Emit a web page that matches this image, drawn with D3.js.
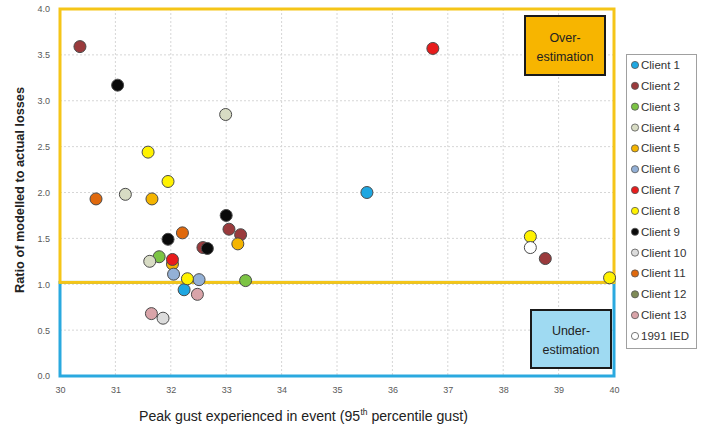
<!DOCTYPE html>
<html><head><meta charset="utf-8">
<script src="https://cdn.jsdelivr.net/npm/d3@7"></script>
<style>body{margin:0;background:#fff}svg{display:block}</style>
</head><body>
<svg id="c" width="707" height="428"></svg>
<script>
const seriesNames = ["Client 1","Client 2","Client 3","Client 4","Client 5","Client 6","Client 7","Client 8","Client 9","Client 10","Client 11","Client 12","Client 13","1991 IED"];
const client1 = [[35.54,2.00],[32.24,0.94]];
const client2 = [[30.36,3.59],[32.58,1.40],[33.05,1.60],[33.26,1.54],[38.76,1.28]];
const client3 = [[31.79,1.30],[33.35,1.04]];
const client4 = [[32.99,2.85],[31.18,1.98],[31.62,1.25]];
const client5 = [[31.66,1.93],[32.03,1.22],[33.21,1.44]];
const client6 = [[32.05,1.11],[32.51,1.05]];
const client7 = [[36.73,3.57],[32.03,1.27]];
const client8 = [[31.59,2.44],[31.95,2.12],[32.30,1.06],[38.49,1.52],[39.92,1.07]];
const client9 = [[31.04,3.17],[31.95,1.49],[33.00,1.75],[32.66,1.39]];
const client10 = [[31.86,0.63]];
const client11 = [[30.65,1.93],[32.21,1.56]];
const client12 = [];
const client13 = [[31.65,0.68],[32.48,0.89]];
const ied1991 = [[38.49,1.40]];
const seriesData = [client1,client2,client3,client4,client5,client6,client7,client8,client9,client10,client11,client12,client13,ied1991];
const seriesColors = ["#1fa7e1","#9a3a3c","#7cc444","#d8dcc4","#f4b400","#93b0d6","#e81c1c","#fff200","#0a0a0a","#dcdcdc","#e0690d","#7e8a56","#d9a4a9","#ffffff"];
const xTicks = [30,31,32,33,34,35,36,37,38,39,40];
const yTicks = [0.0,0.5,1.0,1.5,2.0,2.5,3.0,3.5,4.0];
const threshold = 1.02;

const svg = d3.select("#c");
const x = d3.scaleLinear().domain([30,40]).range([60,614]);
const y = d3.scaleLinear().domain([0,4]).range([376,9]);

// grid
const g = svg.append("g");
g.selectAll(".vg").data(xTicks.slice(1,-1)).join("line")
  .attr("x1",d=>x(d)).attr("x2",d=>x(d)).attr("y1",y(4)).attr("y2",y(0))
  .attr("stroke","#d6d6d6").attr("stroke-width",1).attr("stroke-dasharray","2,2");
g.selectAll(".hg").data(yTicks.filter(d=>d>0&&d<4)).join("line")
  .attr("y1",d=>y(d)).attr("y2",d=>y(d)).attr("x1",x(30)).attr("x2",x(40))
  .attr("stroke","#d6d6d6").attr("stroke-width",1).attr("stroke-dasharray","2,2");

// axes labels
const xAxis = d3.axisBottom(x).tickValues(xTicks).tickFormat(d3.format("d")).tickSize(0).tickPadding(11);
const xa = svg.append("g").attr("transform",`translate(0,${y(0)})`).call(xAxis);
xa.select(".domain").remove();
xa.selectAll("text").attr("font-family","Liberation Sans, Arial, sans-serif").attr("font-size",9).attr("fill","#595959");
const yAxis = d3.axisLeft(y).tickValues(yTicks).tickFormat(d3.format(".1f")).tickSize(0).tickPadding(10);
const ya = svg.append("g").attr("transform",`translate(${x(30)},0)`).call(yAxis);
ya.select(".domain").remove();
ya.selectAll("text").attr("font-family","Liberation Sans, Arial, sans-serif").attr("font-size",9).attr("fill","#595959");

// region rectangles
svg.append("rect").attr("x",x(30)).attr("y",y(threshold)).attr("width",x(40)-x(30)).attr("height",y(0)-y(threshold))
  .attr("fill","none").attr("stroke","#2aa9df").attr("stroke-width",3);
svg.append("rect").attr("x",x(30)).attr("y",y(4)).attr("width",x(40)-x(30)).attr("height",y(threshold)-y(4))
  .attr("fill","none").attr("stroke","#f5c518").attr("stroke-width",3);

// points
seriesData.forEach((arr,i)=>{
  svg.append("g").selectAll("circle").data(arr).join("circle")
    .attr("cx",d=>x(d[0])).attr("cy",d=>y(d[1])).attr("r",6)
    .attr("fill",seriesColors[i]).attr("stroke","#4a4a4a").attr("stroke-width",1);
});

// annotation boxes
function box(x0,y0,w,h,fill,lines){
  svg.append("rect").attr("x",x0).attr("y",y0).attr("width",w).attr("height",h)
    .attr("fill",fill).attr("stroke","#1a1a1a").attr("stroke-width",2);
  const t = svg.append("text").attr("text-anchor","middle").attr("font-family","Liberation Sans Narrow, Liberation Sans, Arial, sans-serif")
    .attr("font-size",12.5).attr("fill","#222");
  lines.forEach((l,k)=>t.append("tspan").attr("x",x0+w/2).attr("y",y0+h/2-4+k*19).text(l));
}
box(525,16,80,59,"#f7b500",["Over-","estimation"]);
box(531,310,80,58,"#9fdaf2",["Under-","estimation"]);

// legend
const lg = svg.append("g");
lg.append("rect").attr("x",626.5).attr("y",54.5).attr("width",70).attr("height",294)
  .attr("fill","#fff").attr("stroke","#a0a0a0").attr("stroke-width",1);
const ly = d3.scalePoint().domain(seriesNames).range([65,336]);
seriesNames.forEach((n,i)=>{
  lg.append("circle").attr("cx",635).attr("cy",ly(n)).attr("r",3.6)
    .attr("fill",seriesColors[i]).attr("stroke","#555").attr("stroke-width",0.8);
  lg.append("text").attr("x",641).attr("y",ly(n)+4).attr("font-family","Liberation Sans, Arial, sans-serif")
    .attr("font-size",11.5).attr("fill","#333").text(n);
});

// x axis title: three pieces laid side by side, horizontally condensed
const xtg = svg.append("g");
const parts = [
  {t:"Peak gust experienced in event (95", fs:15, dy:0},
  {t:"th", fs:9, dy:-6},
  {t:" percentile gust)", fs:15, dy:0}
];
let cx = 0;
parts.forEach(p=>{
  const el = xtg.append("text").attr("x",cx).attr("y",p.dy)
    .attr("font-family","Liberation Sans, Arial, sans-serif").attr("font-size",p.fs).attr("fill","#222")
    .style("white-space","pre").text(p.t);
  cx += el.node().getComputedTextLength();
});
const k = 329/cx;
xtg.attr("transform",`translate(139,421) scale(${k},1)`);

svg.append("text").attr("transform","translate(24,190) rotate(-90)").attr("text-anchor","middle")
  .attr("textLength",206).attr("lengthAdjust","spacingAndGlyphs")
  .attr("font-family","Liberation Sans, Arial, sans-serif").attr("font-weight","bold").attr("font-size",12.5).attr("fill","#222")
  .text("Ratio of modelled to actual losses");
</script>
</body></html>
